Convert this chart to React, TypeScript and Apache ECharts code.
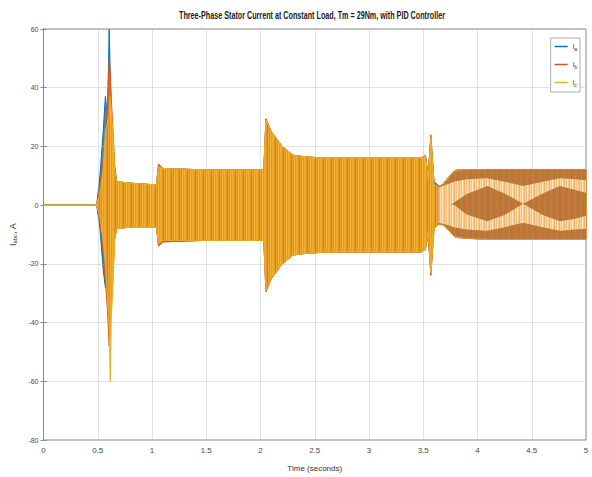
import React, { useEffect, useRef } from "react";
import * as echarts from "echarts";

// Envelope sample times (s)
const TIME = [0, 0.49, 0.52, 0.55, 0.57, 0.59, 0.605, 0.615, 0.625, 0.64, 0.655, 0.675, 0.8, 1.0, 1.04, 1.06, 1.1, 1.5, 2.03, 2.05, 2.1, 2.2, 2.3, 2.4, 2.6, 3.0, 3.48, 3.52, 3.545, 3.57, 3.6, 3.66, 3.72, 3.8, 4.0, 4.5, 5.0];

// Phase a (blue) envelope
const IA_UPPER = [0, 0, 10, 25, 37, 30, 60, 45, 30, 22, 12, 8, 7.5, 7, 7, 13.5, 12.5, 12, 12, 29, 25, 20, 17, 16.5, 16, 16, 16, 17, 10, 23, 8, 6, 9, 12, 12, 12, 12];
const IA_LOWER = [0, 0, -8, -22, -28, -24, -22, -27, -24, -18, -10, -8, -7.5, -7, -7, -13.5, -12.5, -12, -12, -29, -25, -20, -17, -16.5, -16, -16, -16, -15, -10, -23, -7, -6, -8, -11, -11.5, -11.5, -11.5];
// Phase b (orange) envelope
const IB_UPPER = [0, 0, 6, 16, 22, 35, 50, 45, 36, 26, 14, 8, 7.5, 7, 7, 14, 12.5, 12, 12, 29.5, 25, 20, 17, 16.5, 16, 16, 16, 17, 10, 24, 7, 6, 9, 12, 12, 12, 12];
const IB_LOWER = [0, 0, -5, -16, -26, -36, -48, -42, -34, -25, -12, -8, -7.5, -7.5, -7.5, -14, -12.5, -12, -12, -29.5, -25, -20, -17, -16.5, -16, -16, -16, -15, -10, -24, -8, -6, -8, -11, -11.5, -11.5, -11.5];
// Phase c (yellow) envelope
const IC_UPPER = [0, 0, 4, 12, 25, 28, 30, 37, 32, 24, 12, 8, 7.5, 7, 7, 13, 12.5, 12, 12, 29, 25, 20, 17, 16.5, 16, 16, 16, 17, 9, 23, 7, 6, 9, 12, 12, 12, 12];
const IC_LOWER = [0, 0, -4, -12, -20, -32, -42, -60, -38, -28, -12, -8, -7.5, -7.5, -7.5, -13, -12, -12, -12, -29, -25, -20, -17, -16.5, -16, -16, -16, -15, -9, -23, -8, -6, -8, -11, -11.5, -11.5, -11.5];

// Beat pattern of the last interval (light lattice and dark diamonds)
const BEAT_TIME = [3.64, 3.7, 3.75, 3.78, 3.9, 4.09, 4.25, 4.42, 4.6, 4.76, 4.9, 5.0];
const BEAT_ENV_UPPER = [6.5, 7.5, 10, 11.5, 12, 12.2, 12.2, 12.2, 12.2, 12.2, 12.2, 12.2];
const BEAT_ENV_LOWER = [-6.5, -7, -9, -10.5, -11.3, -11.5, -11.5, -11.5, -11.5, -11.5, -11.5, -11.5];
const LIGHT_UPPER = [6, 6.8, 7.5, 8, 8.8, 9.2, 8, 6.5, 8, 9.2, 8.8, 8.5];
const LIGHT_LOWER = [-6, -6.5, -7, -7.5, -8.3, -8.7, -7.5, -6, -7.5, -8.7, -8.3, -8];
const DARK_UPPER = [0, 0, 0, 0.8, 3.8, 6.5, 4, 0.5, 4, 6.5, 5.2, 4.2];
const DARK_LOWER = [0, 0, 0, 0.2, -3.2, -5.5, -3.4, 0.5, -3.4, -5.5, -4.6, -3.6];

const PHASES = ["ia", "ib", "ic"];
const X_MIN = 0, X_MAX = 5, X_STEP = 0.5;
const Y_MIN = -80, Y_MAX = 60, Y_STEP = 20;

function stripes(colors: string[]): any {
  const c = document.createElement("canvas");
  c.width = colors.length;
  c.height = 1;
  const ctx = c.getContext("2d")!;
  colors.forEach((col, i) => {
    ctx.fillStyle = col;
    ctx.fillRect(i, 0, 1, 1);
  });
  return { image: c.toDataURL(), repeat: "repeat", imageWidth: colors.length, imageHeight: 1 };
}

function band(name: string, legendColor: string | null, fill: any, stroke: string, times: number[], upper: number[], lower: number[], z: number, lw = 1) {
  const rows = times.map((t, i) => [t, upper[i], lower[i]]);
  const s: any = {
    type: "custom",
    name,
    z,
    data: rows,
    silent: true,
    encode: { x: 0, y: [1, 2] },
    renderItem: (params: any, api: any) => {
      if (params.dataIndex !== 0) return null;
      const top = rows.map((r) => api.coord([r[0], r[1]]));
      const bot = rows.map((r) => api.coord([r[0], r[2]])).reverse();
      return {
        type: "polygon",
        shape: { points: top.concat(bot) },
        style: { fill, stroke, lineWidth: lw },
      };
    },
  };
  if (legendColor) s.itemStyle = { color: legendColor };
  return s;
}

export default function App() {
  const ref = useRef<HTMLDivElement>(null);
  useEffect(() => {
    if (!ref.current) return;
    const chart = echarts.init(ref.current, null, { renderer: "svg" });
    const font = "'Liberation Sans', Arial, sans-serif";
    const axisColor = "#8a8a8a";
    const labelColor = "#4a4a4a";
    const mainFill = stripes(["#EDB120", "#EEA830", "#E8952A", "#E07C2A", "#EAA232", "#D39248", "#EFB03A", "#E99A2C"]);
    const darkFill = stripes(["#B47A45", "#6E88A2", "#C8722E", "#98805E", "#BE7C3C", "#A88458"]);
    const lightFill = stripes(["#F8D9A8", "#F3C07E", "#FBE6C4", "#F5C98C", "#EDB46A"]);
    chart.setOption({
      animation: false,
      backgroundColor: "#ffffff",
      textStyle: { fontFamily: font },
      graphic: [
        {
          type: "text",
          x: 312,
          y: 16,
          scaleX: 0.72,
          style: {
            text: "Three-Phase Stator Current at Constant Load, Tm = 29Nm, with PID Controller",
            fontSize: 10,
            fontWeight: "bold",
            fontFamily: font,
            fill: "#222",
            align: "center",
            verticalAlign: "middle",
          },
        },
      ],
      grid: { left: 38, right: 6, top: 29, bottom: 34, show: true, borderColor: axisColor, borderWidth: 1, backgroundColor: "transparent" },
      legend: {
        data: PHASES.map((p) => ({ name: p, icon: "rect" })),
        orient: "vertical",
        right: 12,
        top: 38,
        itemWidth: 13,
        itemHeight: 1.5,
        itemGap: 10,
        padding: [5, 3, 5, 4],
        borderColor: "#9a9a9a",
        borderWidth: 0.8,
        backgroundColor: "#fff",
        textStyle: {
          fontSize: 7,
          color: "#333",
          rich: { i: { fontSize: 7, color: "#333" }, s: { fontSize: 5, color: "#333", padding: [4, 0, 0, 0] } },
        },
        formatter: (name: string) => `{i|i}{s|${name.slice(1)}}`,
      },
      xAxis: [
        {
          type: "value",
          min: X_MIN,
          max: X_MAX,
          interval: X_STEP,
          z: 3,
          name: "Time (seconds)",
          nameLocation: "middle",
          nameGap: 24,
          nameTextStyle: { fontSize: 8, color: "#333" },
          axisLine: { show: true, lineStyle: { color: axisColor } },
          axisTick: { inside: true, length: 3, lineStyle: { color: axisColor } },
          axisLabel: { fontSize: 8, color: labelColor, margin: 6, formatter: (v: number) => String(v) },
          splitLine: { show: true, lineStyle: { color: "rgba(190,190,190,0.45)", width: 1 } },
        },
        {
          type: "value",
          position: "top",
          min: X_MIN,
          max: X_MAX,
          interval: X_STEP,
          axisLine: { show: true, lineStyle: { color: axisColor } },
          axisTick: { inside: true, length: 3, lineStyle: { color: axisColor } },
          axisLabel: { show: false },
          splitLine: { show: false },
        },
      ],
      yAxis: [
        {
          type: "value",
          min: Y_MIN,
          max: Y_MAX,
          interval: Y_STEP,
          z: 3,
          name: "{m|I}{s|abc}{m|, A}",
          nameLocation: "middle",
          nameGap: 10,
          nameTextStyle: {
            fontSize: 8,
            color: "#333",
            rich: { m: { fontSize: 9, color: "#333" }, s: { fontSize: 6, color: "#333", padding: [4, 0, 0, 0] } },
          },
          axisLine: { show: true, lineStyle: { color: axisColor } },
          axisTick: { inside: true, length: 3, lineStyle: { color: axisColor } },
          axisLabel: { fontSize: 7, color: labelColor, margin: 5 },
          splitLine: { show: true, lineStyle: { color: "rgba(190,190,190,0.45)", width: 1 } },
        },
        {
          type: "value",
          position: "right",
          min: Y_MIN,
          max: Y_MAX,
          interval: Y_STEP,
          axisLine: { show: true, lineStyle: { color: axisColor } },
          axisTick: { inside: true, length: 3, lineStyle: { color: axisColor } },
          axisLabel: { show: false },
          splitLine: { show: false },
        },
      ],
      series: [
        band("ia", "#0072BD", "#3b8cc6", "#0072BD", TIME, IA_UPPER, IA_LOWER, 2),
        band("ib", "#D95319", "#df6e2e", "#D95319", TIME, IB_UPPER, IB_LOWER, 3),
        band("ic", "#EDB120", mainFill, "#EDB120", TIME, IC_UPPER, IC_LOWER, 4),
        band("beat", null, darkFill, "#C98A3A", BEAT_TIME, BEAT_ENV_UPPER, BEAT_ENV_LOWER, 5, 0.5),
        band("light", null, lightFill, "none", BEAT_TIME, LIGHT_UPPER, LIGHT_LOWER, 6, 0),
        band("dark", null, darkFill, "none", BEAT_TIME, DARK_UPPER, DARK_LOWER, 7, 0),
      ],
    });
    return () => chart.dispose();
  }, []);
  return <div ref={ref} style={{ position: "fixed", left: 0, top: 0, width: 592, height: 477 }} />;
}
